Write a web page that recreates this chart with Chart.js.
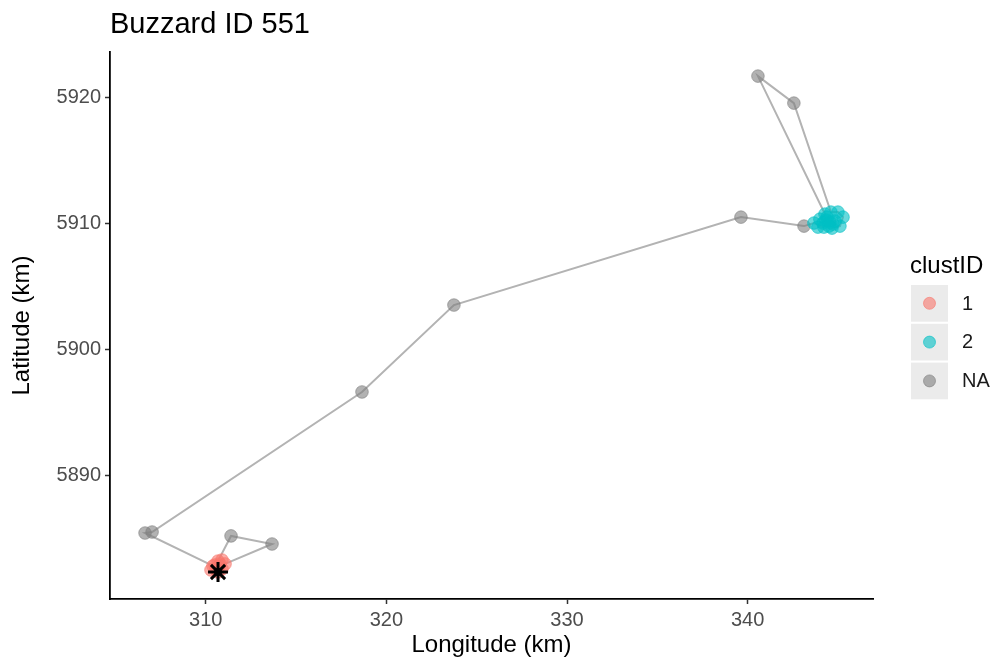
<!DOCTYPE html>
<html>
<head>
<meta charset="utf-8">
<title>Buzzard ID 551</title>
<script src="https://cdn.jsdelivr.net/npm/chart.js@4/dist/chart.umd.min.js"></script>
<style>
html, body { margin: 0; padding: 0; background: #fff; }
canvas { display: block; }
</style>
</head>
<body>
<canvas id="trackChart" width="1001" height="664"></canvas>
<script>
/* GPS fixes in time order, projected km */
const lon = [310.68, 310.90, 310.68, 311.40, 313.67, 311.07, 310.74, 310.90, 310.57, 310.29, 310.51, 310.79, 310.62, 310.40,
             306.64, 307.03, 318.65, 323.74, 339.63, 343.12,
             343.67, 344.22, 344.44, 344.33, 344.00, 344.28, 340.57, 342.56,
             344.61, 345.00, 345.28, 345.11, 344.67, 344.83, 344.55, 344.39, 344.72, 344.17, 344.50, 343.89]
const lat = [5882.35, 5883.30, 5883.22, 5885.21, 5884.57, 5882.99, 5882.83, 5882.59, 5882.51, 5882.51, 5882.91, 5882.99, 5882.67, 5882.83,
             5885.44, 5885.52, 5896.62, 5903.51, 5910.48, 5909.77,
             5910.01, 5909.69, 5910.17, 5910.25, 5910.32, 5910.72, 5921.66, 5919.52,
             5910.88, 5910.88, 5910.48, 5909.77, 5909.61, 5910.17, 5910.09, 5910.48, 5909.93, 5910.01, 5909.77, 5909.69]
// cluster of each fix, null = not clustered
const clustID = [1, 1, 1, null, null, 1, 1, 1, 1, 1, 1, 1, 1, 1,
                 null, null, null, null, null, null,
                 2, 2, 2, 2, 2, 2, null, null,
                 2, 2, 2, 2, 2, 2, 2, 2, 2, 2, 2, 2]

const xTicks = [310, 320, 330, 340]
const yTicks = [5890, 5900, 5910, 5920]
const clustLevels = [1, 2, null]
const clustNames = ['1', '2', 'NA']
const clustColors = ['rgba(248,118,109,0.6)', 'rgba(0,191,196,0.6)', 'rgba(127,127,127,0.6)']

const FONT = "'Liberation Sans', Arial, sans-serif"
Chart.defaults.font.family = FONT
Chart.defaults.color = '#000'

const fixes = lon.map((x, i) => ({ x, y: lat[i] }))

const pointSet = (lvl, k) => ({
    data: fixes.filter((p, i) => clustID[i] === lvl),
    backgroundColor: clustColors[k],
    borderColor: clustColors[k],
    borderWidth: 1,
    pointRadius: 6.3,
    pointHoverRadius: 6.3,
    order: lvl === null ? 3 : 2
})

/* title + clustID legend drawn straight on the canvas */
const ggExtras = {
    id: 'ggExtras',
    afterDraw(chart) {
        const ctx = chart.ctx
        ctx.save()
        ctx.fillStyle = '#000'
        ctx.textAlign = 'left'
        ctx.textBaseline = 'alphabetic'
        ctx.font = `29px ${FONT}`
        ctx.fillText('Buzzard ID 551', 110, 33)

        ctx.font = `24px ${FONT}`
        ctx.fillText('clustID', 910, 273)

        clustNames.forEach((name, k) => {
            const top = 285 + k * 38.8
            ctx.fillStyle = '#ebebeb'
            ctx.fillRect(911, top, 37, 36.7)
            ctx.beginPath()
            ctx.arc(929.5, top + 18.3, 6, 0, Math.PI * 2)
            ctx.fillStyle = clustColors[k]
            ctx.fill()
            ctx.strokeStyle = clustColors[k]
            ctx.lineWidth = 1
            ctx.stroke()
            ctx.fillStyle = '#1a1a1a'
            ctx.font = `20px ${FONT}`
            ctx.textBaseline = 'middle'
            ctx.fillText(name, 962, top + 19)
        })
        ctx.restore()
    }
}

const axisStyle = {
    border: { display: true, color: '#000', width: 1.8 },
    grid: { drawOnChartArea: false, drawTicks: true, tickLength: 5, tickColor: '#333', tickWidth: 1.5 }
}

new Chart('trackChart', {
    type: 'scatter',
    data: {
        datasets: [
            {
                // movement path
                data: fixes,
                showLine: true,
                borderColor: '#b3b3b3',
                borderWidth: 2,
                pointRadius: 0,
                pointHoverRadius: 0,
                order: 10
            },
            ...clustLevels.map(pointSet),
            {
                // first fix
                data: [fixes[0]],
                pointStyle: 'star',
                pointRadius: 10,
                pointHoverRadius: 10,
                borderColor: '#000',
                borderWidth: 3,
                order: 0
            }
        ]
    },
    options: {
        responsive: false,
        animation: false,
        devicePixelRatio: 1,
        layout: { padding: { top: 52, right: 128, bottom: 0, left: 0 } },
        plugins: {
            legend: { display: false },
            tooltip: { enabled: false }
        },
        events: [],
        scales: {
            x: {
                type: 'linear',
                min: 304.7,
                max: 346.94,
                afterBuildTicks: s => { s.ticks = xTicks.map(v => ({ value: v })) },
                afterFit: s => { s.height = 65 },
                ...axisStyle,
                ticks: { color: '#4d4d4d', font: { size: 20 }, padding: 4, maxRotation: 0, callback: v => String(v) },
                title: { display: true, text: 'Longitude (km)', color: '#000', font: { size: 24 }, padding: { top: 0, bottom: 4 } }
            },
            y: {
                type: 'linear',
                min: 5880.21,
                max: 5923.57,
                afterBuildTicks: s => { s.ticks = yTicks.map(v => ({ value: v })) },
                afterFit: s => { s.width = 110 },
                ...axisStyle,
                ticks: { color: '#4d4d4d', font: { size: 20 }, padding: 4, callback: v => String(v) },
                title: { display: true, text: 'Latitude (km)', color: '#000', font: { size: 24 }, padding: { top: 8, bottom: 0 } }
            }
        }
    },
    plugins: [ggExtras]
})
</script>
</body>
</html>
